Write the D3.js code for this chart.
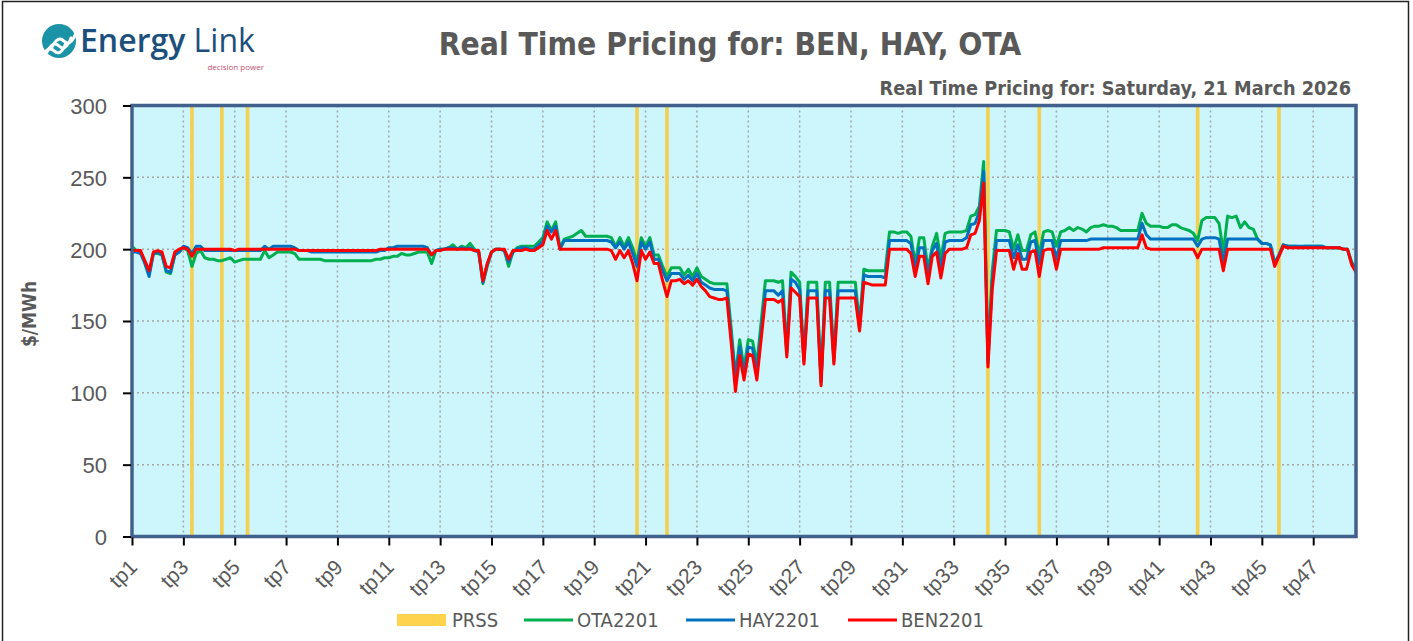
<!DOCTYPE html>
<html>
<head>
<meta charset="utf-8">
<script src="https://cdn.jsdelivr.net/npm/d3@7"></script>
<style>
  html, body { margin: 0; padding: 0; background: #fff; }
  svg { display: block; font-family: "Liberation Sans Narrow", "DejaVu Sans Condensed", "Liberation Sans", sans-serif; }
</style>
</head>
<body>
<svg id="chart" width="1413" height="641"></svg>
<script>
'use strict';

// x axis labels, one every 2 trading periods (12 five-minute intervals)
const TICK_LABELS = ['tp1', 'tp3', 'tp5', 'tp7', 'tp9', 'tp11', 'tp13', 'tp15', 'tp17', 'tp19', 'tp21', 'tp23',
  'tp25', 'tp27', 'tp29', 'tp31', 'tp33', 'tp35', 'tp37', 'tp39', 'tp41', 'tp43', 'tp45', 'tp47'];
const Y_TICKS = [0, 50, 100, 150, 200, 250, 300];

// five-minute intervals flagged PRSS
const PRSS = [14, 21, 27, 118, 125, 200, 212, 249, 268];

// $/MWh, 6 intervals per trading period
const OTA2201 = [
  202, 199, 198, 191, 183, 197,  197, 196, 184, 183, 196, 198,  201, 199, 188, 197, 199, 194,
  193, 193, 192, 192, 193, 194,  191, 192, 193, 193, 193, 193,  193, 199, 194, 196, 198, 198,
  198, 198, 197, 193, 193, 193,  193, 193, 193, 192, 192, 192,  192, 192, 192, 192, 192, 192,
  192, 192, 192, 193, 193, 194,  194, 195, 195, 197, 196, 196,  197, 198, 198, 198, 190, 199,
  200, 200, 201, 203, 200, 202,  201, 204, 200, 198, 176, 188,  198, 200, 200, 199, 188, 198,
  201, 202, 202, 202, 202, 205,  208, 219, 213, 219, 201, 207,  208, 209, 211, 213, 209, 209,
  209, 209, 209, 209, 208, 202,  208, 202, 208, 201, 191, 208,  202, 208, 196, 196, 188, 181,
  187, 187, 187, 182, 186, 181,  187, 181, 179, 177, 176, 176,  176, 176, 145, 112, 137, 117,
  137, 136, 120, 149, 178, 178,  178, 177, 178, 130, 184, 181,  177, 124, 177, 177, 177, 108,
  177, 177, 124, 177, 177, 177,  177, 177, 148, 186, 185, 185,  185, 185, 185, 212, 212, 211,
  212, 212, 209, 190, 208, 208,  186, 202, 211, 193, 211, 212,  212, 212, 212, 213, 223, 224,
  230, 261, 124, 185, 213, 213,  213, 212, 200, 210, 199, 199,  210, 212, 196, 212, 213, 212,
  202, 212, 213, 215, 213, 215,  214, 212, 215, 216, 216, 217,  216, 216, 215, 213, 213, 213,
  213, 213, 225, 218, 216, 216,  216, 215, 215, 217, 217, 215,  214, 213, 211, 206, 220, 222,
  222, 222, 218, 198, 223, 222,  223, 215, 219, 215, 214, 207,  204, 204, 203, 190, 196, 203,
  202, 202, 202, 201, 202, 202,  202, 202, 202, 201, 201, 201,  201, 200, 200, 191, 187
];
const HAY2201 = [
  198, 198, 197, 190, 181, 197,  198, 196, 185, 184, 196, 198,  202, 201, 197, 202, 202, 199,
  199, 199, 199, 199, 199, 199,  199, 199, 199, 199, 199, 199,  199, 202, 200, 202, 202, 202,
  202, 202, 201, 199, 199, 199,  198, 198, 198, 198, 198, 198,  198, 198, 198, 198, 198, 198,
  198, 198, 198, 198, 199, 199,  201, 201, 202, 202, 202, 202,  202, 202, 202, 201, 196, 199,
  200, 200, 201, 201, 200, 201,  200, 201, 199, 198, 177, 189,  198, 200, 200, 199, 191, 198,
  200, 201, 201, 200, 200, 203,  205, 216, 212, 216, 200, 206,  206, 206, 206, 206, 206, 206,
  206, 206, 206, 206, 205, 201,  205, 200, 205, 197, 188, 205,  200, 205, 193, 193, 185, 178,
  183, 183, 183, 179, 182, 178,  183, 177, 175, 173, 172, 172,  172, 171, 140, 110, 132, 113,
  132, 131, 114, 142, 171, 171,  171, 168, 171, 128, 179, 177,  172, 122, 171, 171, 171, 107,
  171, 171, 122, 171, 171, 171,  171, 171, 145, 182, 181, 181,  181, 181, 180, 206, 206, 206,
  206, 206, 204, 186, 201, 201,  182, 199, 204, 186, 205, 206,  206, 206, 206, 208, 217, 218,
  226, 254, 121, 178, 206, 206,  206, 206, 194, 203, 193, 193,  205, 206, 190, 206, 206, 206,
  193, 206, 206, 206, 206, 206,  206, 206, 207, 207, 207, 207,  207, 207, 207, 207, 207, 207,
  207, 207, 218, 210, 207, 207,  207, 207, 207, 207, 207, 207,  207, 207, 207, 202, 207, 208,
  208, 208, 207, 191, 207, 207,  207, 207, 207, 207, 207, 207,  204, 204, 203, 190, 196, 203,
  202, 202, 202, 202, 202, 202,  202, 202, 202, 201, 201, 201,  201, 200, 200, 190, 186
];
const BEN2201 = [
  199, 199, 199, 192, 185, 198,  199, 198, 188, 187, 198, 200,  201, 200, 195, 200, 200, 200,
  200, 200, 200, 200, 200, 200,  199, 200, 200, 200, 200, 200,  200, 200, 200, 200, 200, 200,
  200, 200, 200, 199, 199, 199,  199, 199, 199, 199, 199, 199,  199, 199, 199, 199, 199, 199,
  199, 199, 199, 199, 200, 200,  200, 200, 200, 200, 200, 200,  200, 200, 200, 200, 196, 199,
  199, 200, 200, 200, 200, 200,  200, 200, 199, 199, 178, 190,  198, 200, 200, 200, 193, 199,
  199, 199, 200, 199, 199, 201,  203, 213, 207, 213, 200, 200,  200, 200, 200, 200, 200, 200,
  200, 200, 200, 200, 199, 193,  199, 194, 199, 190, 178, 199,  193, 198, 190, 190, 178, 167,
  178, 178, 179, 176, 178, 175,  179, 174, 171, 167, 166, 165,  165, 166, 135, 101, 126, 109,
  127, 126, 109, 137, 165, 165,  165, 163, 165, 125, 173, 170,  167, 120, 166, 166, 166, 105,
  166, 166, 120, 166, 166, 166,  166, 166, 143, 177, 176, 175,  175, 175, 175, 200, 200, 200,
  200, 200, 197, 181, 195, 195,  176, 195, 198, 180, 197, 200,  200, 200, 200, 201, 210, 211,
  220, 246, 118, 172, 199, 199,  199, 199, 186, 197, 186, 186,  198, 199, 181, 199, 200, 200,
  186, 200, 200, 200, 200, 200,  200, 200, 200, 200, 200, 201,  201, 201, 201, 201, 201, 201,
  201, 201, 210, 201, 200, 200,  200, 200, 200, 200, 200, 200,  200, 200, 200, 194, 200, 200,
  200, 200, 200, 185, 200, 200,  200, 200, 200, 200, 200, 200,  200, 200, 200, 188, 195, 202,
  201, 201, 201, 201, 201, 201,  201, 201, 201, 201, 201, 201,  201, 200, 200, 189, 184
];

const SERIES = [
  { name: 'OTA2201', values: OTA2201, color: '#00b050' },
  { name: 'HAY2201', values: HAY2201, color: '#0070c0' },
  { name: 'BEN2201', values: BEN2201, color: '#ff0000' }
];
const PRSS_COLOR = '#f2d052';
const TEXT_COLOR = '#595959';

const svg = d3.select('#chart');
const plot = { left: 132, right: 1356, top: 105.5, bottom: 536.5 };

const x = d3.scaleLinear().domain([0, BEN2201.length - 1]).range([plot.left, plot.right]);
const y = d3.scaleLinear().domain([0, 300]).range([plot.bottom, plot.top]);
const step = x(1) - x(0);

// outer frame
svg.append('rect')
  .attr('x', 2.5).attr('y', 1.5).attr('width', 1406).attr('height', 660)
  .attr('fill', '#fff').attr('stroke', '#222').attr('stroke-width', 1.5);

// plot background
svg.append('rect')
  .attr('x', plot.left).attr('y', plot.top)
  .attr('width', plot.right - plot.left).attr('height', plot.bottom - plot.top)
  .attr('fill', '#ccf5fc');

// grid
const tickIdx = TICK_LABELS.map((t, k) => k * 12);
svg.append('g').selectAll('line').data(Y_TICKS.slice(1, -1)).join('line')
  .attr('x1', plot.left).attr('x2', plot.right)
  .attr('y1', d => y(d)).attr('y2', d => y(d))
  .attr('stroke', '#a6a6a6').attr('stroke-width', 1.5).attr('stroke-dasharray', '2,3');
svg.append('g').selectAll('line').data(tickIdx.slice(1)).join('line')
  .attr('x1', d => x(d)).attr('x2', d => x(d))
  .attr('y1', plot.top).attr('y2', plot.bottom)
  .attr('stroke', '#a6a6a6').attr('stroke-width', 1.5).attr('stroke-dasharray', '2,3');

// PRSS columns
svg.append('g').selectAll('rect').data(PRSS).join('rect')
  .attr('x', d => x(d) - step * 0.43).attr('width', step * 0.86)
  .attr('y', y(300)).attr('height', y(0) - y(300))
  .attr('fill', PRSS_COLOR);

// price lines
const line = d3.line().x((d, i) => x(i)).y(d => y(d));
svg.append('g').selectAll('path').data(SERIES).join('path')
  .attr('d', d => line(d.values))
  .attr('fill', 'none').attr('stroke', d => d.color)
  .attr('stroke-width', 3).attr('stroke-linejoin', 'round');

// plot border
svg.append('rect')
  .attr('x', plot.left).attr('y', plot.top)
  .attr('width', plot.right - plot.left).attr('height', plot.bottom - plot.top)
  .attr('fill', 'none').attr('stroke', '#41618c').attr('stroke-width', 3.5);

// axes
const yAxis = svg.append('g')
  .attr('transform', `translate(${plot.left - 1},0)`)
  .call(d3.axisLeft(y).tickValues(Y_TICKS).tickSize(8).tickPadding(16));
yAxis.select('.domain').remove();
yAxis.selectAll('.tick line').attr('stroke', '#000').attr('stroke-width', 2);
yAxis.selectAll('.tick text')
  .attr('fill', TEXT_COLOR).style('font-size', '22px').attr('dy', '0.36em');

const xAxis = svg.append('g')
  .attr('transform', `translate(0,${plot.bottom + 1})`)
  .call(d3.axisBottom(x).tickValues(tickIdx).tickFormat((d, k) => TICK_LABELS[k]).tickSize(8));
xAxis.select('.domain').remove();
xAxis.selectAll('.tick line').attr('stroke', '#000').attr('stroke-width', 2);
xAxis.selectAll('.tick text')
  .attr('fill', TEXT_COLOR).style('font-size', '21px')
  .attr('text-anchor', 'end')
  .attr('y', 0).attr('dy', 0)
  .attr('transform', 'translate(6,31) rotate(-45)');

// axis title
svg.append('text')
  .attr('transform', 'translate(36,314) rotate(-90)')
  .attr('text-anchor', 'middle')
  .attr('fill', TEXT_COLOR).style('font-size', '19px').style('font-weight', 'bold')
  .text('$/MWh');

// titles
svg.append('text')
  .attr('x', 730).attr('y', 55).attr('text-anchor', 'middle')
  .attr('fill', TEXT_COLOR).style('font-size', '31.5px').style('font-weight', 'bold')
  .text('Real Time Pricing for: BEN, HAY, OTA');
svg.append('text')
  .attr('x', 1351).attr('y', 95).attr('text-anchor', 'end')
  .attr('fill', TEXT_COLOR).style('font-size', '19.7px').style('font-weight', 'bold')
  .text('Real Time Pricing for: Saturday, 21 March 2026');

// logo
const logo = svg.append('g');
logo.append('circle').attr('cx', 59).attr('cy', 41).attr('r', 17).attr('fill', '#1b93a6');
[-7, 0, 7].forEach(o => {
  logo.append('path')
    .attr('d', `M${47 + o * 0.7},${52 - o * 0.7} c4,-8 8,-10 12,-6 c4,4 8,2 12,-8`)
    .attr('fill', 'none').attr('stroke', '#fff').attr('stroke-width', 3)
    .attr('stroke-linecap', 'round');
});
logo.append('text')
  .attr('x', 80).attr('y', 52)
  .attr('fill', '#1d4f7c').style('font-family', '"Open Sans", sans-serif').style('font-size', '32px')
  .call(t => {
    t.append('tspan').style('font-weight', 600).text('Energy');
    t.append('tspan').style('font-weight', 400).text(' Link');
  });
logo.append('text')
  .attr('x', 264).attr('y', 70).attr('text-anchor', 'end')
  .attr('fill', '#c0506e').style('font-family', '"Open Sans", sans-serif').style('font-size', '8px')
  .text('decision power');

// legend
const legend = svg.append('g').attr('transform', 'translate(0,620)');
legend.append('rect')
  .attr('x', 397).attr('y', -6).attr('width', 49).attr('height', 12).attr('fill', '#ffd34d');
legend.append('text')
  .attr('x', 452).attr('y', 0).attr('dy', '0.35em')
  .attr('fill', TEXT_COLOR).style('font-size', '20px').text('PRSS');
const legendX = [524, 686, 848];
SERIES.forEach((s, k) => {
  legend.append('line')
    .attr('x1', legendX[k]).attr('x2', legendX[k] + 49)
    .attr('stroke', s.color).attr('stroke-width', 3);
  legend.append('text')
    .attr('x', legendX[k] + 53).attr('y', 0).attr('dy', '0.35em')
    .attr('fill', TEXT_COLOR).style('font-size', '20px').text(s.name);
});
</script>
</body>
</html>
